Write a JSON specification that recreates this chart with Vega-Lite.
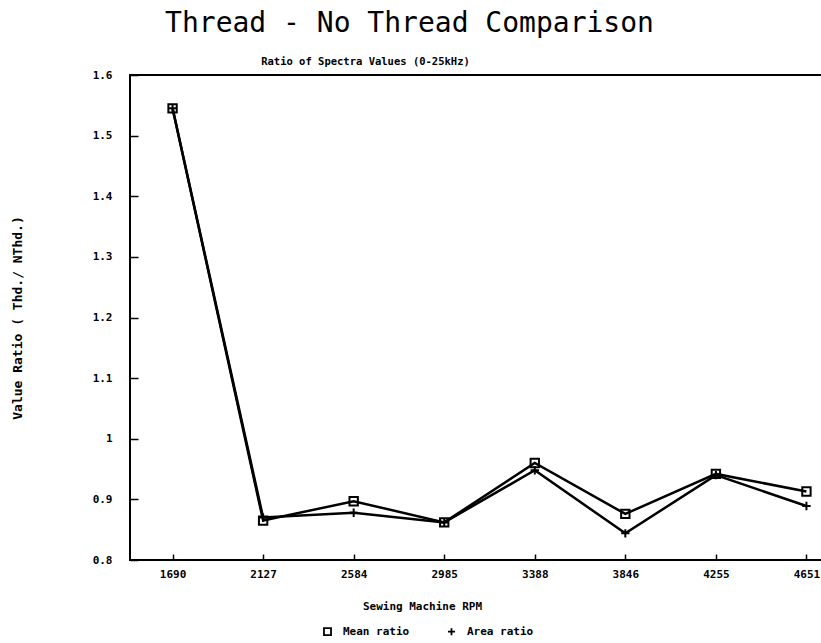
{
  "$schema": "https://vega.github.io/schema/vega-lite/v6.json",
  "autosize": "none",
  "width": 719,
  "height": 485,
  "padding": {"left": 130, "top": 75, "right": 0, "bottom": 83},
  "background": "white",
  "config": {
    "view": {"stroke": "black", "strokeWidth": 2},
    "font": "DejaVu Sans Mono",
    "axis": {"labelFont": "DejaVu Sans Mono", "titleFont": "DejaVu Sans Mono", "labelColor": "black", "titleColor": "black", "grid": false}
  },
  "title": {
    "text": "Thread - No Thread Comparison",
    "font": "DejaVu Sans Mono",
    "fontSize": 28,
    "fontWeight": "normal",
    "color": "black",
    "anchor": "middle",
    "frame": "group",
    "dx": -80,
    "offset": 18
  },
  "data": {
    "values": [
      {"rpm": "1690", "series": "Mean ratio", "value": 1.545},
      {"rpm": "2127", "series": "Mean ratio", "value": 0.865},
      {"rpm": "2584", "series": "Mean ratio", "value": 0.897},
      {"rpm": "2985", "series": "Mean ratio", "value": 0.862},
      {"rpm": "3388", "series": "Mean ratio", "value": 0.960},
      {"rpm": "3846", "series": "Mean ratio", "value": 0.876},
      {"rpm": "4255", "series": "Mean ratio", "value": 0.942},
      {"rpm": "4651", "series": "Mean ratio", "value": 0.913},
      {"rpm": "1690", "series": "Area ratio", "value": 1.545},
      {"rpm": "2127", "series": "Area ratio", "value": 0.870},
      {"rpm": "2584", "series": "Area ratio", "value": 0.878},
      {"rpm": "2985", "series": "Area ratio", "value": 0.862},
      {"rpm": "3388", "series": "Area ratio", "value": 0.948},
      {"rpm": "3846", "series": "Area ratio", "value": 0.844},
      {"rpm": "4255", "series": "Area ratio", "value": 0.940},
      {"rpm": "4651", "series": "Area ratio", "value": 0.889}
    ]
  },
  "layer": [
    {
      "mark": {"type": "line", "strokeWidth": 2.5},
      "encoding": {
        "x": {
          "field": "rpm", "type": "ordinal", "sort": null,
          "scale": {"type": "point", "padding": 0.47},
          "axis": {
            "orient": "bottom", "title": "Sewing Machine  RPM", "labelAngle": 0,
            "domain": false, "tickSize": -6, "tickWidth": 1.5, "tickColor": "black",
            "labelFontSize": 11, "labelFontWeight": "bold", "labelPadding": 14,
            "titleFontSize": 11, "titleFontWeight": "bold", "titlePadding": 21,
            "titleX": 292, "titleAnchor": "middle"
          }
        },
        "y": {
          "field": "value", "type": "quantitative",
          "scale": {"domain": [0.8, 1.6], "nice": false, "zero": false},
          "axis": {
            "values": [0.8, 0.9, 1, 1.1, 1.2, 1.3, 1.4, 1.5, 1.6],
            "format": "~g",
            "domain": false, "tickSize": -8, "tickWidth": 1.5, "tickColor": "black",
            "labelFontSize": 11, "labelFontWeight": "bold", "labelPadding": 26,
            "title": "Value Ratio ( Thd./ NThd.)",
            "titleFontSize": 13, "titleFontWeight": "bold", "titlePadding": 68
          }
        },
        "detail": {"field": "series"},
        "color": {"field": "series", "type": "nominal", "sort": ["Mean ratio", "Area ratio"], "scale": {"range": ["black", "black"]}, "legend": null}
      }
    },
    {
      "mark": {"type": "point", "filled": false, "strokeWidth": 2, "opacity": 1},
      "encoding": {
        "x": {
          "field": "rpm", "type": "ordinal", "sort": null,
          "axis": {
            "orient": "top", "title": "Ratio of Spectra Values (0-25kHz)",
            "labels": false, "ticks": false, "domain": false,
            "titleFontSize": 10.5, "titleFontWeight": "bold",
            "titleX": 235, "titleY": -11, "titleAnchor": "middle", "titleBaseline": "alphabetic"
          }
        },
        "y": {"field": "value", "type": "quantitative"},
        "shape": {
          "field": "series", "type": "nominal", "sort": ["Mean ratio", "Area ratio"],
          "scale": {"range": ["square", "M-1,0H1M0,-1V1"]},
          "legend": {
            "title": null, "orient": "none", "legendX": 192, "legendY": 551,
            "direction": "horizontal", "columns": 2, "columnPadding": 34,
            "labelFontSize": 11, "labelFontWeight": "bold", "labelColor": "black",
            "labelFont": "DejaVu Sans Mono", "symbolStrokeColor": "black", "symbolStrokeWidth": 1.8,
            "symbolFillColor": "transparent", "symbolSize": 50, "labelOffset": 10
          }
        },
        "size": {"value": 70},
        "color": {"field": "series", "type": "nominal", "sort": ["Mean ratio", "Area ratio"], "scale": {"range": ["black", "black"]}, "legend": null}
      }
    }
  ],
  "resolve": {"axis": {"x": "independent"}}
}
